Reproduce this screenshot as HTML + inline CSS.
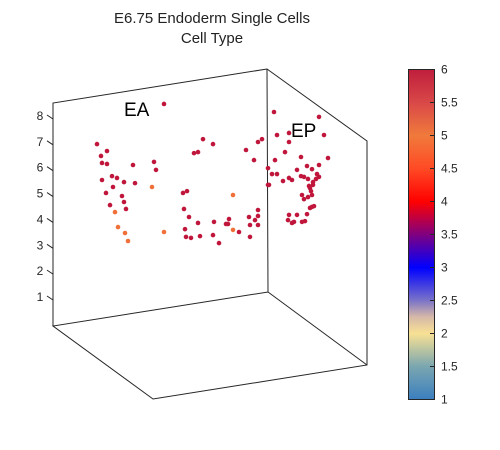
<!DOCTYPE html>
<html><head><meta charset="utf-8"><style>
body{margin:0;background:#fff;font-family:"Liberation Sans",sans-serif}
svg{display:block}
</style></head><body>
<svg width="500" height="450" viewBox="0 0 500 450">
<defs>
<linearGradient id="cmap" x1="0" y1="1" x2="0" y2="0">
<stop offset="0" stop-color="#3b7fbf"/>
<stop offset="0.1" stop-color="#7aa6b0"/>
<stop offset="0.2" stop-color="#f8e194"/>
<stop offset="0.25" stop-color="#d6b9a8"/>
<stop offset="0.3" stop-color="#7a73c8"/>
<stop offset="0.4" stop-color="#0000ff"/>
<stop offset="0.5" stop-color="#800080"/>
<stop offset="0.6" stop-color="#ff0000"/>
<stop offset="0.7" stop-color="#ff4a25"/>
<stop offset="0.8" stop-color="#f07a3c"/>
<stop offset="0.9" stop-color="#d94848"/>
<stop offset="1" stop-color="#bf1e3c"/>
</linearGradient>
</defs>
<text x="212" y="23" font-size="15" text-anchor="middle" fill="#222">E6.75 Endoderm Single Cells</text>
<text x="212" y="43" font-size="15" text-anchor="middle" fill="#222">Cell Type</text>
<g stroke="#262626" stroke-width="1" fill="none">
<polyline points="53,326 53,103 267,69 367,141 367,365 153,399 53,326 268,292 367,365"/>
<line x1="267" y1="69" x2="268" y2="292"/>
</g>
<g id="zticks"></g>
<g id="pts"></g>
<text x="124" y="116" font-size="19" fill="#000">EA</text>
<text x="291" y="137" font-size="19" fill="#000">EP</text>
<rect x="408.5" y="69.5" width="26" height="330" fill="url(#cmap)" stroke="#262626"/>
<g id="cbticks"></g>
</svg>
<script>
const zTicks=[1,2,3,4,5,6,7,8];
const cbTicks=[1,1.5,2,2.5,3,3.5,4,4.5,5,5.5,6];
const cbLabels=["1","1.5","2","2.5","3","3.5","4","4.5","5","5.5","6"];
const uVals=[11.1,4.4,5.4,4.8,4.9,5.4,8.0,10.1,10.3,5.9,6.4,4.9,7.1,8.2,6.0,9.9,5.3,6.9,7.1,5.7,7.3,6.2,6.5,7.2,7.5,11.1,15.0,16.0,14.1,14.5,19.3,20.1,20.5,20.9,13.0,13.4,18.0,13.1,13.6,14.5,16.1,17.6,17.3,17.5,19.6,20.2,20.5,20.5,19.7,20.5,13.2,18.0,18.6,13.3,13.8,14.7,16.0,16.6,19.7,21.5,21.5,22.1,26.6,22.4,27.1,23.6,23.6,23.2,22.2,24.8,27.5,21.9,22.4,25.4,25.9,26.6,24.4,23.0,23.6,23.9,24.8,25.1,25.5,26.4,26.6,26.3,26.0,26.0,25.6,25.7,25.8,21.6,24.9,25.1,25.5,25.9,25.7,25.9,26.1,25.4,23.6,24.4,23.5,23.9,24.1,24.9,25.2];
const zVals=[8.58,7.03,6.76,6.57,6.30,6.26,6.22,6.34,6.03,5.79,5.72,5.64,5.56,5.52,5.37,5.37,5.14,5.02,4.79,4.67,4.52,4.40,3.82,3.59,3.28,3.63,7.22,7.03,6.68,6.72,6.80,6.41,7.11,7.22,5.14,5.21,5.06,4.52,4.21,3.98,4.02,4.13,3.94,3.94,4.21,4.09,4.25,4.48,3.90,3.90,3.74,3.71,3.63,3.44,3.40,3.47,3.51,3.20,3.44,6.10,5.45,8.27,8.08,7.38,7.38,7.46,7.11,6.72,6.41,6.53,6.49,5.87,5.87,6.18,6.06,6.22,6.03,5.60,5.72,5.64,5.79,5.76,5.68,5.87,5.76,5.68,5.56,5.45,5.41,5.33,5.21,5.45,5.06,4.90,4.98,5.06,4.56,4.60,4.63,4.32,4.29,4.29,4.09,3.98,4.02,4.02,4.05];
const cellType=[6,6,6,6,6,6,6,6,6,6,6,6,6,6,6,5,6,6,6,6,6,5,5,5,5,5,6,6,6,6,6,6,6,6,6,6,5,6,6,6,6,6,6,6,6,6,6,6,6,6,6,5,6,6,6,6,6,6,6,6,6,6,6,6,6,6,6,6,6,6,6,6,6,6,6,6,6,6,6,6,6,6,6,6,6,6,6,6,6,6,6,6,6,6,6,6,6,6,6,6,6,6,6,6,6,6,6];
const NS='http://www.w3.org/2000/svg';
const X=u=>53+u*10;
const Y=z=>300-(z-1)*25.86;
const CB=v=>399.5-(v-1)*66;
function color(v){return v>=5.5?'#c0163c':v>=4.5?'#f0703a':'#ff0000';}
const zt=document.getElementById('zticks');
zTicks.forEach(t=>{
 const l=document.createElementNS(NS,'line');
 l.setAttribute('x1',47);l.setAttribute('y1',Y(t)-4);l.setAttribute('x2',53);l.setAttribute('y2',Y(t));
 l.setAttribute('stroke','#262626');
 
 
 zt.appendChild(l);
 const tx=document.createElementNS(NS,'text');
 tx.setAttribute('x',40);tx.setAttribute('y',Y(t)+1);tx.setAttribute('font-size','12');tx.setAttribute('fill','#262626');tx.setAttribute('text-anchor','middle');
 tx.textContent=t;
 
 
 zt.appendChild(tx);
});
const pg=document.getElementById('pts');
uVals.forEach((u,i)=>{
 const c=document.createElementNS(NS,'circle');
 c.setAttribute('cx',X(u));c.setAttribute('cy',Y(zVals[i]));c.setAttribute('r',2.3);
 c.setAttribute('fill',color(cellType[i]));
 
 
 pg.appendChild(c);
});
const cg=document.getElementById('cbticks');
cbTicks.forEach((t,i)=>{
 const l=document.createElementNS(NS,'line');
 l.setAttribute('x1',430);l.setAttribute('x2',434.5);l.setAttribute('y1',CB(t));l.setAttribute('y2',CB(t));l.setAttribute('stroke','#262626');
 
 
 cg.appendChild(l);
 const tx=document.createElementNS(NS,'text');
 tx.setAttribute('x',441);tx.setAttribute('y',CB(t)+4);tx.setAttribute('font-size','12');tx.setAttribute('fill','#262626');
 tx.textContent=cbLabels[i];
 
 
 cg.appendChild(tx);
});
</script>
</body></html>
